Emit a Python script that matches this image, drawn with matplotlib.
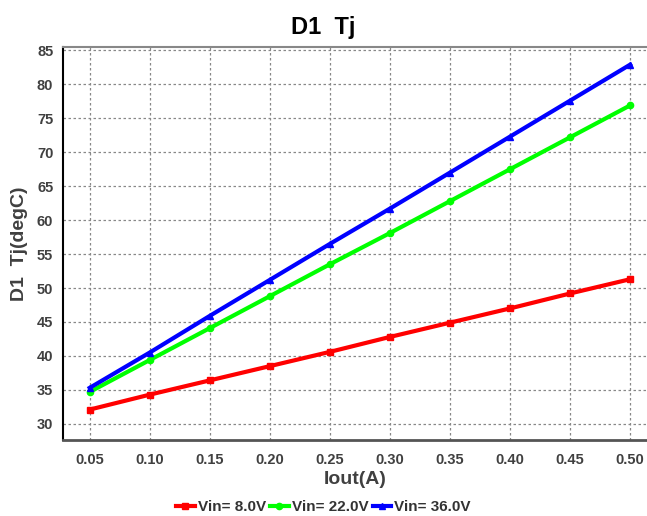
import matplotlib.pyplot as plt

plt.rcParams['font.family'] = ['Liberation Sans', 'DejaVu Sans']

# data
iout = [0.05, 0.10, 0.15, 0.20, 0.25, 0.30, 0.35, 0.40, 0.45, 0.50]
tj_8v = [32.1, 34.3, 36.4, 38.5, 40.6, 42.8, 44.9, 47.0, 49.2, 51.3]
tj_22v = [34.7, 39.4, 44.1, 48.8, 53.5, 58.1, 62.8, 67.5, 72.2, 76.9]
tj_36v = [35.3, 40.5, 45.9, 51.2, 56.5, 61.7, 67.0, 72.3, 77.6, 82.9]
labels = ['Vin= 8.0V', 'Vin= 22.0V', 'Vin= 36.0V']
yticks = [30, 35, 40, 45, 50, 55, 60, 65, 70, 75, 80, 85]

fig = plt.figure(figsize=(6.47, 5.16), dpi=100)
ax = fig.add_axes([0.0974, 0.147, 0.9026, 0.762])

ax.plot(iout, tj_8v, color='#ff0000', lw=3, marker='s', ms=4.5, label=labels[0])
ax.plot(iout, tj_22v, color='#00ff00', lw=3, marker='o', ms=4.5, label=labels[1])
ax.plot(iout, tj_36v, color='#0000ff', lw=3, marker='^', ms=4.5, label=labels[2])

ax.set_xlim(0.0278, 0.514)
ax.set_ylim(27.6, 85.5)
ax.set_xticks(iout)
ax.set_xticklabels(['%.2f' % v for v in iout])
ax.set_yticks(yticks)
ax.grid(True, color='#888888', ls=(0, (2, 2)), lw=0.9)
ax.tick_params(length=0, labelsize=10.5, labelcolor='#404040')
ax.tick_params(axis='x', pad=9)
ax.tick_params(axis='y', pad=7)
for t in ax.get_xticklabels() + ax.get_yticklabels():
    t.set_fontweight('bold')

ax.spines['right'].set_visible(False)
ax.spines['top'].set_color('#888888')
ax.spines['top'].set_linewidth(1.5)
ax.spines['left'].set_color('black')
ax.spines['left'].set_linewidth(1.5)
ax.spines['bottom'].set_color('#555555')
ax.spines['bottom'].set_linewidth(2)

ax.set_xlabel('Iout(A)', fontsize=14, fontweight='bold', color='#404040', labelpad=3)
ax.set_ylabel('D1  Tj(degC)', fontsize=14, fontweight='bold', color='#404040', labelpad=6)
fig.text(0.5, 0.947, 'D1  Tj', ha='center', va='center', fontsize=17, fontweight='bold')

leg = fig.legend(loc='center', bbox_to_anchor=(0.5, 0.017), ncol=3, frameon=False,
                 handlelength=1.2, handletextpad=0.2, columnspacing=0.3,
                 prop={'weight': 'bold', 'size': 11})
for t in leg.get_texts():
    t.set_color('#333333')

fig.savefig('out.png', dpi=100)
